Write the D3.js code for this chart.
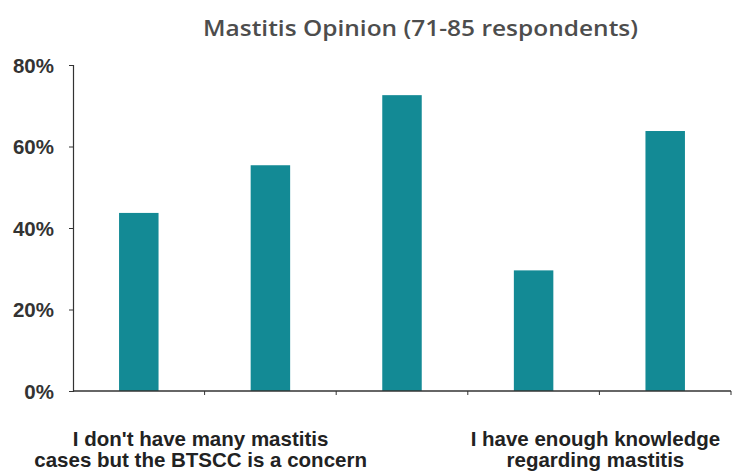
<!DOCTYPE html>
<html>
<head>
<meta charset="utf-8">
<script src="https://cdn.jsdelivr.net/npm/d3@7"></script>
<style>
  html, body { margin: 0; padding: 0; background: #fff; }
  svg { display: block; }
</style>
</head>
<body>
<svg id="chart" width="734" height="471"></svg>
<script>
// Survey answers, share of respondents agreeing
const categories = ["Q1", "Q2", "Q3", "Q4", "Q5"];
const values = [43.7, 55.4, 72.6, 29.6, 63.8];
const yTicks = [0, 20, 40, 60, 80];
const titleText = "Mastitis Opinion (71-85 respondents)";
// Statement labels shown under the axis, each covering a pair of bars
const groupLabels = [
  ["I don't have many mastitis", "cases but the BTSCC is a concern"],
  ["I have enough knowledge", "regarding mastitis"]
];
const groupSpans = [[0, 1], [3, 4]];

const svg = d3.select("#chart");
const margin = { top: 65, right: 3, bottom: 80, left: 73 };
const W = 734, H = 471;
const innerW = W - margin.left - margin.right;
const innerH = H - margin.top - margin.bottom;

const g = svg.append("g").attr("transform", `translate(${margin.left},${margin.top})`);

const x = d3.scaleBand().domain(categories).range([0, innerW]).paddingInner(0.7).paddingOuter(0.35);
const y = d3.scaleLinear().domain([0, 80]).range([innerH, 0]);

// Title
svg.append("text")
  .attr("x", 203).attr("y", 36)
  .attr("textLength", 435).attr("lengthAdjust", "spacingAndGlyphs")
  .style("font-family", "'Open Sans', sans-serif")
  .style("font-weight", 600)
  .style("font-size", "21px")
  .style("fill", "#4d4d4d")
  .text(titleText);

// Bars
g.selectAll("rect.bar").data(values).join("rect")
  .attr("class", "bar")
  .attr("x", (d, i) => x(categories[i]))
  .attr("width", x.bandwidth())
  .attr("y", d => y(d))
  .attr("height", d => y(0) - y(d))
  .attr("fill", "#138a95");

// Y axis
const yAxis = g.append("g")
  .call(d3.axisLeft(y).tickValues(yTicks).tickFormat(d => d + "%").tickSize(4).tickPadding(15));
yAxis.select(".domain").attr("stroke", "#333").attr("stroke-width", 1.2);
yAxis.selectAll(".tick line").attr("stroke", "#333");
yAxis.selectAll(".tick text")
  .attr("dy", "0.36em")
  .style("font-family", "'Liberation Sans', Arial, sans-serif")
  .style("font-weight", "bold")
  .style("font-size", "20.5px")
  .style("fill", "#333");

// X axis with ticks on category boundaries
const boundaries = d3.range(categories.length + 1).map(i => i * innerW / categories.length);
const xAxis = g.append("g").attr("transform", `translate(0,${innerH})`);
xAxis.append("line")
  .attr("x1", 0).attr("x2", innerW).attr("y1", 0).attr("y2", 0)
  .attr("stroke", "#333").attr("stroke-width", 1.4);
xAxis.selectAll("line.tick").data(boundaries.slice(1)).join("line")
  .attr("class", "tick")
  .attr("x1", d => d).attr("x2", d => d)
  .attr("y1", 0).attr("y2", 4)
  .attr("stroke", "#333");

// Statement labels, centred under their pair of bars
const labelG = g.append("g").attr("transform", `translate(0,${innerH})`);
groupLabels.forEach((lines, k) => {
  const [a, b] = groupSpans[k];
  const cx = (x(categories[a]) + x(categories[b]) + x.bandwidth()) / 2 - 4;
  const t = labelG.append("text")
    .attr("text-anchor", "middle")
    .style("font-family", "'Liberation Sans', Arial, sans-serif")
    .style("font-weight", "bold")
    .style("font-size", "20.5px")
    .style("fill", "#222");
  lines.forEach((line, j) => {
    t.append("tspan").attr("x", cx).attr("y", 54.5 + j * 21.5).text(line);
  });
});
</script>
</body>
</html>
